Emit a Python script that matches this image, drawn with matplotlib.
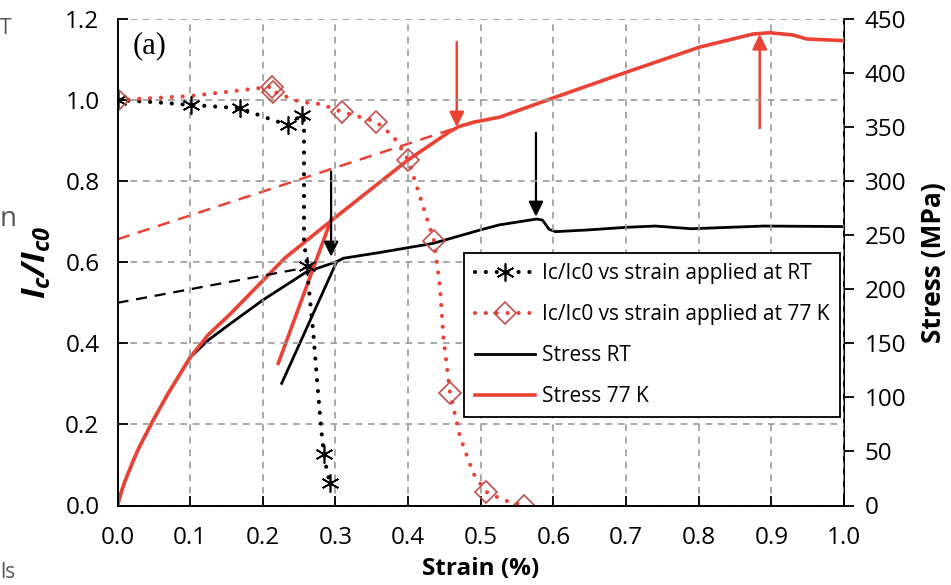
import matplotlib
matplotlib.use("Agg")
import matplotlib.pyplot as plt
from matplotlib.lines import Line2D

plt.rcParams['font.family'] = ['Open Sans', 'DejaVu Sans']
plt.rcParams['mathtext.fontset'] = 'custom'
plt.rcParams['mathtext.it'] = 'Open Sans:italic:bold'
plt.rcParams['mathtext.rm'] = 'Open Sans:italic:bold'
plt.rcParams['mathtext.bf'] = 'Open Sans:italic:bold'

# ---------------- data ----------------
# Ic/Ic0 vs strain applied at RT (measured points)
rt_strain = [0.0, 0.101, 0.169, 0.234, 0.2535, 0.2612, 0.2842, 0.2925]
rt_ic = [1.0, 0.988, 0.980, 0.9385, 0.963, 0.591, 0.127, 0.055]
# dotted connecting curve
rt_path_strain = [0.0, 0.05, 0.101, 0.169, 0.2007, 0.234, 0.2535, 0.2567, 0.2567, 0.2612,
                  0.2627, 0.2696, 0.275, 0.281, 0.2842, 0.288, 0.2925]
rt_path_ic = [1.0, 0.995, 0.988, 0.980, 0.959, 0.9385, 0.963, 0.95, 0.65, 0.591,
              0.548, 0.4247, 0.301, 0.178, 0.127, 0.0876, 0.055]

# Ic/Ic0 vs strain applied at 77 K (measured points)
k77_strain = [0.0, 0.2122, 0.2145, 0.3086, 0.3558, 0.4003, 0.4357, 0.4577, 0.5072, 0.5595]
k77_ic = [1.0, 1.033, 1.021, 0.971, 0.947, 0.852, 0.653, 0.278, 0.034, 0.0]
k77_path_strain = [0.0, 0.1, 0.2122, 0.2145, 0.25, 0.28, 0.3086, 0.3558, 0.38, 0.4003,
                   0.4164, 0.4357, 0.4439, 0.4485, 0.4577, 0.4714, 0.4898, 0.5072, 0.531, 0.5595]
k77_path_ic = [1.0, 1.01, 1.033, 1.021, 0.996, 0.99, 0.971, 0.947, 0.91, 0.852,
               0.762, 0.653, 0.54, 0.416, 0.278, 0.17, 0.079, 0.034, 0.0136, 0.0]

# Stress-strain curve, RT
srt_strain = [0.0, 0.005, 0.01, 0.022, 0.03, 0.05, 0.07, 0.1, 0.125, 0.155, 0.2, 0.26, 0.3017,
              0.311, 0.361, 0.4347, 0.499, 0.525, 0.577, 0.585, 0.594, 0.603, 0.65, 0.70,
              0.74, 0.79, 0.89, 1.0]
srt_stress = [0, 12, 22, 42, 54, 80, 104, 137, 153, 168, 190, 216, 225.5,
              228.7, 234, 242.5, 254.8, 259.5, 265, 264, 255.5, 253.3, 255, 257.3,
              258.5, 256, 258.5, 258]

# Stress-strain curve, 77 K
s77_strain = [0.0, 0.005, 0.01, 0.022, 0.03, 0.05, 0.07, 0.1, 0.125, 0.155, 0.2306, 0.3008,
              0.3999, 0.4577, 0.47, 0.49, 0.5265, 0.5994, 0.7013, 0.8018, 0.8748, 0.8982,
              0.9298, 0.949, 1.0]
s77_stress = [0, 12, 22, 42, 54, 80, 104, 137, 158, 177, 229, 267,
              319.6, 346, 350.5, 354.5, 359.3, 376.9, 401, 424.1, 436.1, 437.3,
              435.2, 431.5, 430]

# Construction lines (strain, stress)
rt_dash_strain = [0.0, 0.279]
rt_dash_stress = [187.5, 222.5]
k77_dash_strain = [0.0, 0.465]
k77_dash_stress = [246.2, 349.0]
rt_steep_strain = [0.226, 0.3017]
rt_steep_stress = [113, 225.5]
k77_steep_strain = [0.2213, 0.2948]
k77_steep_stress = [131.5, 265.7]

# Arrows: (strain, stress tail, stress head)
black_arrows = [(0.294, 308.8, 230.1), (0.576, 344.8, 267.1)]
red_arrows = [(0.467, 428.7, 350.0), (0.884, 349.0, 436.1)]

x_ticks = [0.0, 0.1, 0.2, 0.3, 0.4, 0.5, 0.6, 0.7, 0.8, 0.9, 1.0]
x_ticklabels = ['0.0', '0.1', '0.2', '0.3', '0.4', '0.5', '0.6', '0.7', '0.8', '0.9', '1.0']
yl_ticks = [0.0, 0.2, 0.4, 0.6, 0.8, 1.0, 1.2]
yl_ticklabels = ['0.0', '0.2', '0.4', '0.6', '0.8', '1.0', '1.2']
yr_ticks = [0, 50, 100, 150, 200, 250, 300, 350, 400, 450]
yr_ticklabels = ['0', '50', '100', '150', '200', '250', '300', '350', '400', '450']

labels = ['Ic/Ic0 vs strain applied at RT', 'Ic/Ic0 vs strain applied at 77 K',
          'Stress RT', 'Stress 77 K']

RED = '#ea4235'
DRED = '#c0504d'
DOT = (0, (0.01, 2.6))

# ---------------- figure ----------------
fig = plt.figure(figsize=(9.51, 5.85), dpi=100)
ax = fig.add_axes([117.5 / 951, (585 - 505.5) / 585, 726.5 / 951, 486.5 / 585])
ax2 = ax.twinx()
ax.set_zorder(ax2.get_zorder() + 1)
ax.patch.set_visible(False)

# stress (right axis)
l_srt, = ax2.plot(srt_strain, srt_stress, color='black', lw=2.0, label=labels[2])
l_s77, = ax2.plot(s77_strain, s77_stress, color=RED, lw=2.6, label=labels[3])
ax2.plot(rt_dash_strain, rt_dash_stress, color='black', lw=1.6, ls=(0, (5, 3.5)))
ax2.plot(k77_dash_strain, k77_dash_stress, color=RED, lw=1.8, ls=(0, (5, 3.5)))
ax2.plot(rt_steep_strain, rt_steep_stress, color='black', lw=2.0)
ax2.plot(k77_steep_strain, k77_steep_stress, color=RED, lw=2.6)

arrow_style = '-|>,head_length=0.45,head_width=0.22'
for x, y0, y1 in black_arrows:
    ax2.annotate('', xy=(x, y1), xytext=(x, y0),
                 arrowprops=dict(arrowstyle=arrow_style, color='black', lw=1.6,
                                 mutation_scale=20, shrinkA=0, shrinkB=0))
for x, y0, y1 in red_arrows:
    ax2.annotate('', xy=(x, y1), xytext=(x, y0),
                 arrowprops=dict(arrowstyle=arrow_style, color=RED, lw=1.8,
                                 mutation_scale=20, shrinkA=0, shrinkB=0))

# Ic/Ic0 (left axis)
ax.plot(rt_path_strain, rt_path_ic, color='black', lw=3.0, ls=DOT, dash_capstyle='round')
ax.plot(k77_path_strain, k77_path_ic, color=RED, lw=3.0, ls=DOT, dash_capstyle='round')
ax.plot(rt_strain, rt_ic, ls='none', marker=(6, 2, 0), ms=13, mew=1.2, mec='black')
ax.plot(k77_strain, k77_ic, ls='none', marker='D', ms=11, mew=1.2, mec=DRED, mfc='none')

h_rt = Line2D([], [], color='black', lw=3.0, ls=DOT, dash_capstyle='round',
              marker=(6, 2, 0), ms=13, mew=1.2, mec='black')
h_77 = Line2D([], [], color=RED, lw=3.0, ls=DOT, dash_capstyle='round',
              marker='D', ms=11, mew=1.2, mec=DRED, mfc='none')

# axes setup
ax.set_xlim(0, 1.0)
ax.set_ylim(0, 1.2)
ax2.set_ylim(0, 450)
ax.set_xticks(x_ticks)
ax.set_xticklabels(x_ticklabels)
ax.set_yticks(yl_ticks)
ax.set_yticklabels(yl_ticklabels)
ax2.set_yticks(yr_ticks)
ax2.set_yticklabels(yr_ticklabels)

ax.grid(True, color='#9a9a9a', ls=(0, (4, 3.5)), lw=1.2)
ax.tick_params(axis='both', direction='in', length=7, width=1.3, labelsize=17.5)
ax.tick_params(axis='y', pad=13)
ax.tick_params(axis='x', pad=15)
ax2.tick_params(axis='y', direction='out', length=7, width=1.3, labelsize=17.5, pad=8)

for a in (ax, ax2):
    a.spines['top'].set_visible(False)
    for s in a.spines.values():
        s.set_linewidth(1.4)
ax.spines['right'].set_visible(False)
ax2.spines['left'].set_visible(False)
ax2.spines['bottom'].set_visible(False)

ax.set_xlabel('Strain (%)', fontsize=17.5, fontweight='bold', labelpad=5)
ax.set_ylabel(r'$I_c/I_{c0}$', fontsize=24, labelpad=8)
ax2.set_ylabel('Stress (MPa)', fontsize=19, fontweight='bold', labelpad=10)

ax.text(0.021, 0.945, '(a)', transform=ax.transAxes, fontsize=22,
        family=['Liberation Serif', 'DejaVu Serif'], ha='left', va='center')

leg = ax.legend(handles=[h_rt, h_77, l_srt, l_s77], labels=labels, loc='upper right',
                bbox_to_anchor=(0.9945, 0.519), fontsize=15, frameon=True,
                fancybox=False, framealpha=1, edgecolor='black', handlelength=2.9,
                handletextpad=0.33, labelspacing=0.95, borderpad=0.5, borderaxespad=0)
leg.get_frame().set_linewidth(1.3)

# page fragments at left edge
fig.text(0.0, 0.952, 'T', fontsize=15, color='#555555', ha='left', va='center')
fig.text(0.0, 0.625, 'n', fontsize=20, color='#555555', ha='left', va='center')
fig.text(0.0, 0.004, 'ls', fontsize=15, color='#555555', ha='left', va='bottom')

fig.savefig('out.png', dpi=100)
